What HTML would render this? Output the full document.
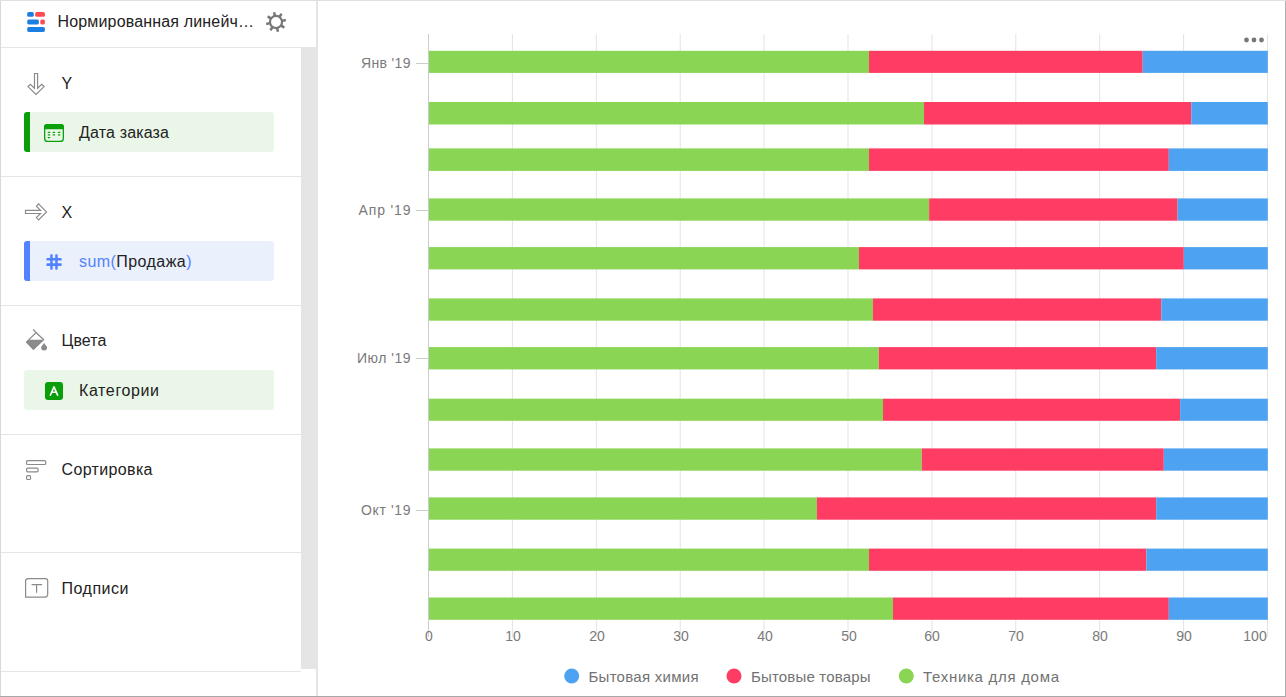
<!DOCTYPE html>
<html><head><meta charset="utf-8">
<style>
html,body{margin:0;padding:0;width:1286px;height:697px;overflow:hidden;background:#fff;}
svg{display:block;font-family:"Liberation Sans",sans-serif;}
.t{font-size:16px;fill:#222;}
.ax{font-size:14px;fill:#7a7a7a;}
.lg{font-size:15px;fill:#727272;}
</style></head>
<body>
<svg width="1286" height="697" viewBox="0 0 1286 697" shape-rendering="crispEdges">
<!-- outer borders -->
<rect x="0" y="0" width="1286" height="1" fill="#e0e0e0"/>
<rect x="0" y="1" width="1" height="695" fill="#d9d9d9"/>
<rect x="1285" y="1" width="1" height="696" fill="#b0b0b0"/>
<rect x="0" y="696" width="1286" height="1" fill="#a8a8a8"/>

<!-- left panel -->
<rect x="316" y="1" width="2" height="695" fill="#e5e5e5"/>
<rect x="1" y="47" width="315" height="1" fill="#e5e5e5"/>
<rect x="301" y="48" width="16" height="621" fill="#e5e5e5"/>
<rect x="1" y="176" width="300" height="1" fill="#e5e5e5"/>
<rect x="1" y="305" width="300" height="1" fill="#e5e5e5"/>
<rect x="1" y="434" width="300" height="1" fill="#e5e5e5"/>
<rect x="1" y="552" width="300" height="1" fill="#e5e5e5"/>
<rect x="1" y="671" width="300" height="1" fill="#e5e5e5"/>

<!-- header icon -->
<g shape-rendering="auto">
<rect x="27.2" y="12" width="6.6" height="4.8" rx="1.6" fill="#1a7fe3"/>
<rect x="35.2" y="12" width="9.7" height="4.8" rx="1.6" fill="#ff4a4f"/>
<rect x="27.2" y="19.4" width="11.7" height="5" rx="1.6" fill="#1a7fe3"/>
<rect x="40.3" y="19.4" width="4.6" height="5" rx="1.6" fill="#ff4a4f"/>
<rect x="27.2" y="27" width="17.7" height="4.9" rx="1.6" fill="#1a7fe3"/>
</g>
<text class="t" x="57.5" y="27" textLength="196.5" lengthAdjust="spacing">Нормированная линейч…</text>
<!-- gear -->
<g shape-rendering="auto" transform="translate(276,22)">
<circle r="6.05" fill="none" stroke="#777" stroke-width="2.2"/>
<g fill="#777"><rect x="-1.25" y="-10" width="2.5" height="4" transform="rotate(-11)"/><rect x="-1.25" y="-10" width="2.5" height="4" transform="rotate(34)"/><rect x="-1.25" y="-10" width="2.5" height="4" transform="rotate(79)"/><rect x="-1.25" y="-10" width="2.5" height="4" transform="rotate(124)"/><rect x="-1.25" y="-10" width="2.5" height="4" transform="rotate(169)"/><rect x="-1.25" y="-10" width="2.5" height="4" transform="rotate(214)"/><rect x="-1.25" y="-10" width="2.5" height="4" transform="rotate(259)"/><rect x="-1.25" y="-10" width="2.5" height="4" transform="rotate(304)"/></g>
</g>
<!-- Section Y -->
<g shape-rendering="auto">
<path d="M34.5 73.5 H37.6 V88.3 L41.7 84.3 L44.1 86.6 L36.05 94.4 L28 86.6 L30.4 84.3 L34.5 88.3 Z" fill="none" stroke="#8a8a8a" stroke-width="1.2" stroke-linejoin="miter"/>
</g>
<text class="t" x="61.5" y="89">Y</text>
<g shape-rendering="auto">
<rect x="24" y="112" width="250" height="40" rx="3" fill="#eaf7e8"/>
<path d="M27 112 h3 v40 h-3 a3 3 0 0 1 -3 -3 v-34 a3 3 0 0 1 3 -3z" fill="#0a9e0a"/>
<rect x="44.65" y="124.65" width="18.7" height="16.8" rx="3" fill="none" stroke="#0aa00a" stroke-width="1.3"/><path d="M44 129.2 V127 a3 3 0 0 1 3 -3 H61 a3 3 0 0 1 3 3 V129.2 Z" fill="#0aa00a"/><g fill="#0aa00a"><rect x="47.7" y="131.7" width="2.6" height="1.3" rx="0.6"/><rect x="52.6" y="131.7" width="2.6" height="1.3" rx="0.6"/><rect x="57.8" y="131.7" width="2.6" height="1.3" rx="0.6"/><rect x="47.7" y="134.3" width="2.6" height="1.3" rx="0.6"/><rect x="52.6" y="134.3" width="2.6" height="1.3" rx="0.6"/><rect x="57.8" y="134.3" width="2.6" height="1.3" rx="0.6"/><rect x="47.7" y="136.9" width="2.6" height="1.3" rx="0.6"/></g>
</g>
<text class="t" x="79" y="138" textLength="90" lengthAdjust="spacing">Дата заказа</text>

<!-- Section X -->
<g shape-rendering="auto">
<path d="M25.5 210.3 H40.5 L36.4 206.2 L38.6 203.9 L46.5 211.9 L38.6 219.9 L36.4 217.6 L40.5 213.5 H25.5 Z" fill="none" stroke="#8a8a8a" stroke-width="1.2"/>
</g>
<text class="t" x="61.5" y="218">X</text>
<g shape-rendering="auto">
<rect x="24" y="241" width="250" height="40" rx="3" fill="#ebf0fd"/>
<path d="M27 241 h3 v40 h-3 a3 3 0 0 1 -3 -3 v-34 a3 3 0 0 1 3 -3z" fill="#5282ff"/>
<g fill="#5282ff"><rect x="50.2" y="254.2" width="2.5" height="15.5" rx="0.9"/><rect x="55.2" y="254.2" width="2.5" height="15.5" rx="0.9"/><rect x="46.4" y="258" width="15.3" height="2.6" rx="0.9"/><rect x="46.4" y="263.3" width="15.3" height="2.6" rx="0.9"/></g>
</g>
<text class="t" x="79" y="267" textLength="112.5" lengthAdjust="spacing"><tspan fill="#5282ff">sum(</tspan>Продажа<tspan fill="#5282ff">)</tspan></text>

<!-- Section Colors -->
<g shape-rendering="auto">
<path d="M28.89 339.65 L43.7 339.65 L33.45 349.3 L26.4 342.1 Z" fill="#8a8a8a"/>
<path d="M26.4 342.1 L36.05 332.6 L43.7 339.65 L33.45 349.3 Z M33.2 329.4 L36.05 332.6" fill="none" stroke="#8a8a8a" stroke-width="1.3" stroke-linejoin="round"/>
<path d="M44.1 342.7 C45 344.6 47.1 346.3 47.1 347.6 A3 3 0 0 1 41.1 347.6 C41.1 346.3 43.2 344.6 44.1 342.7 Z" fill="#8a8a8a"/>
</g>
<text class="t" x="61.5" y="346" textLength="45" lengthAdjust="spacing">Цвета</text>
<g shape-rendering="auto">
<rect x="24" y="370" width="250" height="40" rx="3" fill="#eaf7e8"/>
<rect x="45" y="382" width="18" height="18" rx="3" fill="#0a9e0a"/>
<path d="M50.4 395.1 L54 386.9 L57.6 395.1 M51.8 392.2 H56.2" fill="none" stroke="#fff" stroke-width="1.6" stroke-linecap="round" stroke-linejoin="round"/>
</g>
<text class="t" x="79" y="396" textLength="80" lengthAdjust="spacing">Категории</text>

<!-- Sort -->
<g shape-rendering="auto" fill="none" stroke="#8a8a8a" stroke-width="1.2">
<rect x="26.6" y="460.6" width="19.1" height="3.9" rx="1"/>
<rect x="26.6" y="468.2" width="11.5" height="3.6" rx="1"/>
<rect x="26.6" y="475.6" width="3.9" height="3.9" rx="1"/>
</g>
<text class="t" x="61.5" y="475" textLength="91" lengthAdjust="spacing">Сортировка</text>

<!-- Labels -->
<g shape-rendering="auto" fill="none" stroke="#8a8a8a" stroke-width="1.2">
<path d="M25.6 597.1 V581.1 a2.5 2.5 0 0 1 2.5 -2.5 H45.2 a2.5 2.5 0 0 1 2.5 2.5 V594.6 a2.5 2.5 0 0 1 -2.5 2.5 Z"/>
<path d="M32.2 585.2 V584.6 H41.5 V585.2 M36.6 584.6 V592.7"/>
</g>
<text class="t" x="61.5" y="594" textLength="67" lengthAdjust="spacing">Подписи</text>

<!-- CHART -->
<g id="grid" fill="#e3e3e3" shape-rendering="auto"><rect x="511.90" y="34" width="1" height="603"/><rect x="595.80" y="34" width="1" height="603"/><rect x="679.70" y="34" width="1" height="603"/><rect x="763.60" y="34" width="1" height="603"/><rect x="847.50" y="34" width="1" height="603"/><rect x="931.40" y="34" width="1" height="603"/><rect x="1015.30" y="34" width="1" height="603"/><rect x="1099.20" y="34" width="1" height="603"/><rect x="1183.10" y="34" width="1" height="603"/><rect x="1267.00" y="34" width="1" height="603"/></g>
<rect x="428" y="34" width="1" height="603" fill="#ccc"/>
<g fill="#ccc">
<rect x="416" y="63" width="12" height="1"/>
<rect x="416" y="210" width="12" height="1"/>
<rect x="416" y="358" width="12" height="1"/>
<rect x="416" y="510" width="12" height="1"/>
</g>
<g id="bars" shape-rendering="auto">
<rect x="429" y="50.8" width="440.0" height="22.1" fill="#8ad554"/><rect x="869.0" y="50.8" width="273.7" height="22.1" fill="#ff3d64"/><rect x="1142.7" y="50.8" width="125.1" height="22.1" fill="#4da2f1"/>
<rect x="429" y="102.0" width="495.0" height="22.5" fill="#8ad554"/><rect x="924.0" y="102.0" width="267.3" height="22.5" fill="#ff3d64"/><rect x="1191.3" y="102.0" width="76.5" height="22.5" fill="#4da2f1"/>
<rect x="429" y="148.4" width="440.0" height="22.5" fill="#8ad554"/><rect x="869.0" y="148.4" width="299.8" height="22.5" fill="#ff3d64"/><rect x="1168.8" y="148.4" width="99.0" height="22.5" fill="#4da2f1"/>
<rect x="429" y="198.4" width="500.1" height="22.3" fill="#8ad554"/><rect x="929.1" y="198.4" width="248.5" height="22.3" fill="#ff3d64"/><rect x="1177.6" y="198.4" width="90.2" height="22.3" fill="#4da2f1"/>
<rect x="429" y="247.1" width="430.0" height="22.3" fill="#8ad554"/><rect x="859.0" y="247.1" width="324.8" height="22.3" fill="#ff3d64"/><rect x="1183.8" y="247.1" width="84.0" height="22.3" fill="#4da2f1"/>
<rect x="429" y="298.4" width="443.9" height="22.3" fill="#8ad554"/><rect x="872.9" y="298.4" width="288.4" height="22.3" fill="#ff3d64"/><rect x="1161.3" y="298.4" width="106.5" height="22.3" fill="#4da2f1"/>
<rect x="429" y="347.1" width="449.8" height="22.3" fill="#8ad554"/><rect x="878.8" y="347.1" width="277.4" height="22.3" fill="#ff3d64"/><rect x="1156.2" y="347.1" width="111.6" height="22.3" fill="#4da2f1"/>
<rect x="429" y="398.7" width="454.0" height="22.1" fill="#8ad554"/><rect x="883.0" y="398.7" width="297.1" height="22.1" fill="#ff3d64"/><rect x="1180.1" y="398.7" width="87.7" height="22.1" fill="#4da2f1"/>
<rect x="429" y="448.4" width="492.8" height="22.3" fill="#8ad554"/><rect x="921.8" y="448.4" width="242.0" height="22.3" fill="#ff3d64"/><rect x="1163.8" y="448.4" width="104.0" height="22.3" fill="#4da2f1"/>
<rect x="429" y="497.4" width="387.9" height="22.3" fill="#8ad554"/><rect x="816.9" y="497.4" width="339.3" height="22.3" fill="#ff3d64"/><rect x="1156.2" y="497.4" width="111.6" height="22.3" fill="#4da2f1"/>
<rect x="429" y="548.6" width="440.0" height="22.2" fill="#8ad554"/><rect x="869.0" y="548.6" width="277.4" height="22.2" fill="#ff3d64"/><rect x="1146.4" y="548.6" width="121.4" height="22.2" fill="#4da2f1"/>
<rect x="429" y="597.5" width="464.0" height="22.3" fill="#8ad554"/><rect x="893.0" y="597.5" width="275.8" height="22.3" fill="#ff3d64"/><rect x="1168.8" y="597.5" width="99.0" height="22.3" fill="#4da2f1"/>
</g>
<g text-anchor="end">
<text x="410.5" y="68" class="ax" textLength="49.5" lengthAdjust="spacing">Янв '19</text>
<text x="410.5" y="215" class="ax" textLength="52" lengthAdjust="spacing">Апр '19</text>
<text x="410.5" y="363" class="ax" textLength="53.5" lengthAdjust="spacing">Июл '19</text>
<text x="410.5" y="515" class="ax" textLength="49.5" lengthAdjust="spacing">Окт '19</text>
</g>
<g text-anchor="middle">
<text class="ax" x="429" y="641">0</text>
<text class="ax" x="513" y="641">10</text>
<text class="ax" x="597" y="641">20</text>
<text class="ax" x="681" y="641">30</text>
<text class="ax" x="765" y="641">40</text>
<text class="ax" x="849" y="641">50</text>
<text class="ax" x="932" y="641">60</text>
<text class="ax" x="1016" y="641">70</text>
<text class="ax" x="1100" y="641">80</text>
<text class="ax" x="1184" y="641">90</text>
<text class="ax" x="1255" y="641">100</text>
</g>
<g shape-rendering="auto" fill="#777">
<circle cx="1246.5" cy="40" r="2.4"/><circle cx="1254" cy="40" r="2.4"/><circle cx="1261.5" cy="40" r="2.4"/>
</g>
<g shape-rendering="auto">
<circle cx="571.7" cy="676" r="7.5" fill="#4da2f1"/>
<circle cx="734" cy="676" r="7.5" fill="#ff3d64"/>
<circle cx="906.3" cy="676" r="7.5" fill="#8ad554"/>
</g>
<text class="lg" x="588.5" y="682" textLength="110" lengthAdjust="spacing">Бытовая химия</text>
<text class="lg" x="751" y="682" textLength="119.5" lengthAdjust="spacing">Бытовые товары</text>
<text class="lg" x="923" y="682" textLength="136" lengthAdjust="spacing">Техника для дома</text>
</svg>
</body></html>
